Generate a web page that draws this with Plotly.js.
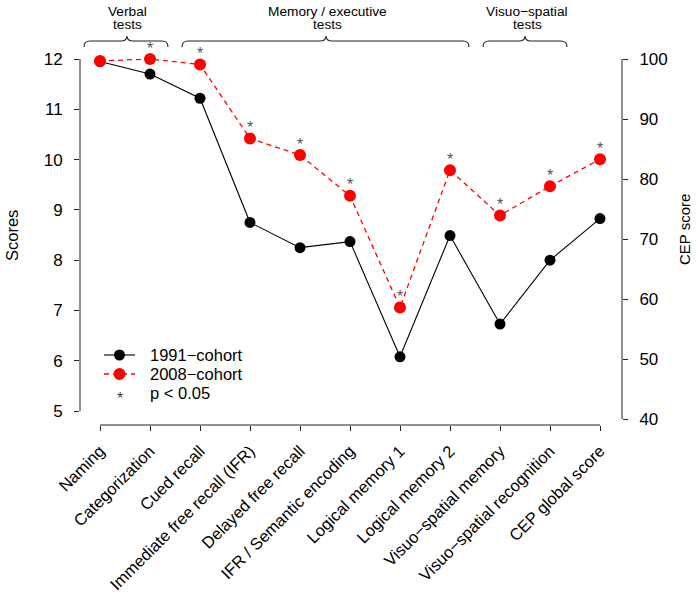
<!DOCTYPE html>
<html>
<head>
<meta charset="utf-8">
<script src="https://cdn.plot.ly/plotly-3.0.1.min.js"></script>
<style>
  html, body { margin: 0; padding: 0; background: #fff; }
  #chart { width: 696px; height: 592px; }
</style>
</head>
<body>
<div id="chart"></div>
<script>
// ---------------- data ----------------
const categories = [
  "Naming", "Categorization", "Cued recall", "Immediate free recall (IFR)",
  "Delayed free recall", "IFR / Semantic encoding", "Logical memory 1",
  "Logical memory 2", "Visuo\u2212spatial memory", "Visuo\u2212spatial recognition",
  "CEP global score"
];
// test scores (left axis) for the first ten tests
const scores1991 = [11.95, 11.70, 11.22, 8.75, 8.25, 8.37, 6.08, 8.49, 6.73, 8.00];
const scores2008 = [11.96, 12.00, 11.89, 10.42, 10.09, 9.28, 7.06, 9.79, 8.89, 9.47];
// CEP global score (right axis)
const cep1991 = [73.4];
const cep2008 = [83.3];
// significance (p < 0.05) for each test
const significant = [false, true, true, true, true, true, true, true, true, true, true];
const scoreTicks = [5, 6, 7, 8, 9, 10, 11, 12];
const cepTicks = [40, 50, 60, 70, 80, 90, 100];
const groups = [
  { lines: ["Verbal", "tests"] },
  { lines: ["Memory / executive", "tests"] },
  { lines: ["Visuo\u2212spatial", "tests"] }
];
const legendLabels = ["1991\u2212cohort", "2008\u2212cohort", "p < 0.05"];

// ---------------- layout helpers ----------------
const W = 696, H = 592;
const M = { l: 80, r: 74, t: 59, b: 167 };
const PW = W - M.l - M.r, PH = H - M.t - M.b;
const px = x => (x - M.l) / PW;          // pixel -> paper x
const py = y => (H - M.b - y) / PH;      // pixel -> paper y
const yRange = [4.724, 12];
const y2Range = [39, 100];
// map a value on the left axis onto the right axis (both share the plot height)
const toY2 = v => y2Range[0] + (v - yRange[0]) * (y2Range[1] - y2Range[0]) / (yRange[1] - yRange[0]);

const FONT = "Liberation Sans, Arial, Helvetica, sans-serif";
const RED = "#ff0000";
const BLACK_LINE = { color: "#000", width: 1.1 };
const RED_LINE = { color: RED, width: 1.3, dash: "5px,4px" };
const nTests = scores1991.length;
const testCats = categories.slice(0, nTests);
const cepCat = categories.slice(nTests);

const traces = [
  {
    x: testCats, y: scores1991, name: legendLabels[0], mode: "lines+markers",
    line: BLACK_LINE, marker: { color: "#000", size: 11 }, cliponaxis: false
  },
  {
    x: testCats, y: scores2008, name: legendLabels[1], mode: "lines+markers",
    line: RED_LINE, marker: { color: RED, size: 12 }, cliponaxis: false
  },
  { // 1991 connector to CEP (right axis)
    x: [testCats[nTests - 1], cepCat[0]], y: [toY2(scores1991[nTests - 1]), cep1991[0]],
    yaxis: "y2", mode: "lines", line: BLACK_LINE, hoverinfo: "skip", cliponaxis: false
  },
  { // 2008 connector to CEP
    x: [testCats[nTests - 1], cepCat[0]], y: [toY2(scores2008[nTests - 1]), cep2008[0]],
    yaxis: "y2", mode: "lines", line: RED_LINE, hoverinfo: "skip", cliponaxis: false
  },
  {
    x: cepCat, y: cep1991, yaxis: "y2", mode: "markers",
    marker: { color: "#000", size: 11 }, cliponaxis: false
  },
  {
    x: cepCat, y: cep2008, yaxis: "y2", mode: "markers",
    marker: { color: RED, size: 12 }, cliponaxis: false
  }
];

// asterisks above significant 2008 values
const annotations = [];
categories.forEach((c, i) => {
  if (!significant[i]) return;
  const onCep = i >= nTests;
  annotations.push({
    x: c, y: onCep ? cep2008[i - nTests] : scores2008[i],
    xref: "x", yref: onCep ? "y2" : "y",
    text: "*", showarrow: false, yshift: 11, yanchor: "middle",
    font: { family: FONT, size: 16, color: "#555" }
  });
});

// group labels and braces
const braces = [
  { x0: 84, x1: 168, mid: 127, label: 127 },
  { x0: 182, x1: 469, mid: 326, label: 327 },
  { x0: 483, x1: 567, mid: 525, label: 527 }
];
const shapes = [];
const pathFrom = pts => pts.map(p => {
  const nums = [];
  for (let j = 1; j < p.length; j += 2) nums.push(px(p[j]).toFixed(5) + "," + py(p[j + 1]).toFixed(5));
  return p[0] + nums.join(" ");
}).join(" ");
braces.forEach((b, k) => {
  const yEnd = 47, yBar = 41, yTip = 36, r = 6;
  const path = pathFrom([
    ["M", b.x0, yEnd],
    ["Q", b.x0, yBar, b.x0 + r, yBar],
    ["L", b.mid - r, yBar],
    ["Q", b.mid, yBar, b.mid, yTip],
    ["Q", b.mid, yBar, b.mid + r, yBar],
    ["L", b.x1 - r, yBar],
    ["Q", b.x1, yBar, b.x1, yEnd]
  ]);
  shapes.push({ type: "path", xref: "paper", yref: "paper", path: path, line: { color: "#222", width: 1.1 } });
  groups[k].lines.forEach((t, li) => {
    annotations.push({
      xref: "paper", yref: "paper", x: px(b.label), y: py(li === 0 ? 12 : 24.5),
      text: t, showarrow: false, xanchor: "center", yanchor: "middle", borderpad: 0,
      font: { family: FONT, size: 13.7, color: "#000" }
    });
  });
});

// axis lines (R style: only between first and last tick)
shapes.push({ type: "line", xref: "paper", yref: "y", x0: 0, x1: 0, y0: scoreTicks[0], y1: scoreTicks[scoreTicks.length - 1], line: { color: "#222", width: 1 } });
shapes.push({ type: "line", xref: "paper", yref: "y2", x0: 1, x1: 1, y0: cepTicks[0], y1: cepTicks[cepTicks.length - 1], line: { color: "#222", width: 1 } });
shapes.push({ type: "line", xref: "x", yref: "paper", x0: 0, x1: categories.length - 1, y0: 0, y1: 0, line: { color: "#222", width: 1 } });

// manual legend (symbols drawn as decorations)
const legY = [355, 374, 393];
const legX0 = 104, legX1 = 135, legXm = 119.5, legText = 150;
shapes.push({ type: "line", xref: "paper", yref: "paper", x0: px(legX0), x1: px(legX1), y0: py(legY[0]), y1: py(legY[0]), line: BLACK_LINE });
shapes.push({ type: "circle", xref: "paper", yref: "paper", x0: px(legXm - 5.5), x1: px(legXm + 5.5), y0: py(legY[0] + 5.5), y1: py(legY[0] - 5.5), fillcolor: "#000", line: { width: 0 } });
shapes.push({ type: "line", xref: "paper", yref: "paper", x0: px(legX0), x1: px(legX1), y0: py(legY[1]), y1: py(legY[1]), line: { color: RED, width: 1.3, dash: "5px,4px" } });
shapes.push({ type: "circle", xref: "paper", yref: "paper", x0: px(legXm - 6), x1: px(legXm + 6), y0: py(legY[1] + 6), y1: py(legY[1] - 6), fillcolor: RED, line: { width: 0 } });
annotations.push({ xref: "paper", yref: "paper", x: px(legXm), y: py(legY[2] + 5), text: "*", showarrow: false, xanchor: "center", yanchor: "middle", font: { family: FONT, size: 16, color: "#444" } });
legendLabels.forEach((t, i) => {
  annotations.push({ xref: "paper", yref: "paper", x: px(legText), y: py(legY[i]), text: t, showarrow: false, xanchor: "left", yanchor: "middle", xshift: -2, font: { family: FONT, size: 16.5, color: "#000" } });
});

// axis titles
annotations.push({ xref: "paper", yref: "paper", x: px(12), y: py(236), text: "Scores", textangle: -90, showarrow: false, xanchor: "center", yanchor: "middle", font: { family: FONT, size: 16.5, color: "#000" } });
annotations.push({ xref: "paper", yref: "paper", x: px(684), y: py(230), text: "CEP score", textangle: -90, showarrow: false, xanchor: "center", yanchor: "middle", font: { family: FONT, size: 15, color: "#000" } });

const tickFont = { family: FONT, size: 17, color: "#000" };
const layout = {
  width: W, height: H,
  margin: M,
  paper_bgcolor: "#fff", plot_bgcolor: "#fff",
  font: { family: FONT, size: 16.5, color: "#000" },
  showlegend: false,
  xaxis: {
    type: "category", categoryorder: "array", categoryarray: categories,
    range: [-0.4, 10.44], tickangle: -45,
    ticks: "outside", ticklen: 5, tickcolor: "#222", tickwidth: 1, ticklabelstandoff: 4,
    showline: false, showgrid: false, zeroline: false,
    tickfont: { family: FONT, size: 16.5, color: "#000" }
  },
  yaxis: {
    range: yRange, tickvals: scoreTicks, ticks: "outside", ticklen: 5, tickcolor: "#222",
    ticklabelstandoff: 8,
    showline: false, showgrid: false, zeroline: false, tickfont: tickFont
  },
  yaxis2: {
    range: y2Range, tickvals: cepTicks, overlaying: "y", side: "right",
    ticks: "outside", ticklen: 5, tickcolor: "#222", ticklabelstandoff: 8,
    showline: false, showgrid: false, zeroline: false, tickfont: tickFont
  },
  shapes: shapes,
  annotations: annotations
};

Plotly.newPlot("chart", traces, layout, { displayModeBar: false, staticPlot: true });
</script>
</body>
</html>
